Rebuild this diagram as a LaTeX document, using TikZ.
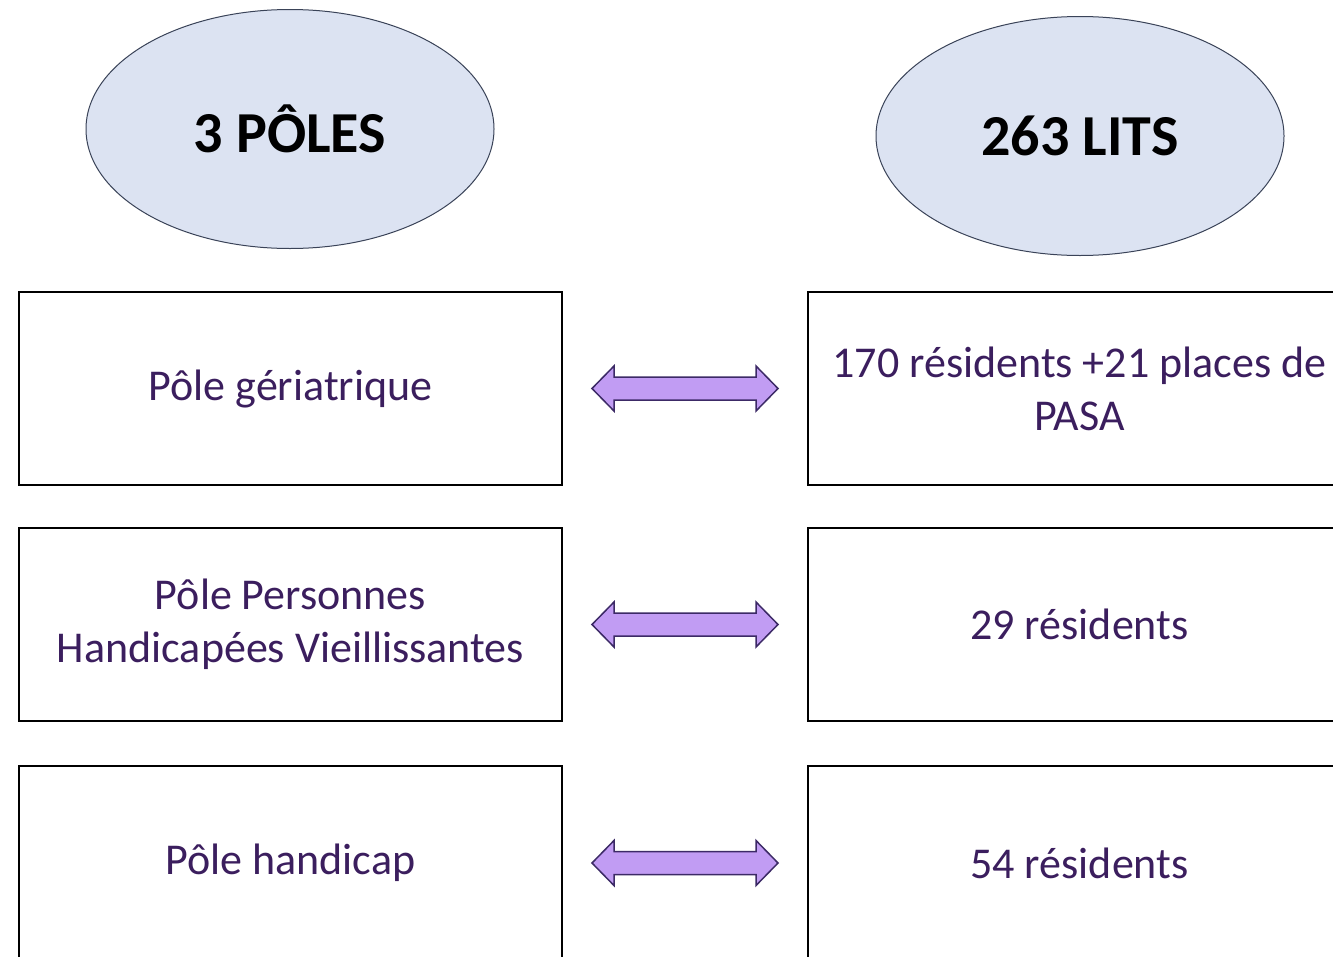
\documentclass[tikz,border=0pt]{standalone}
\usepackage{fontspec}
\setmainfont{Carlito}
\usetikzlibrary{shapes.geometric,calc}
\definecolor{txtpurple}{HTML}{3B1E5E}
\definecolor{ellfill}{HTML}{DCE3F2}
\definecolor{ellline}{HTML}{3A4358}
\definecolor{arrfill}{HTML}{C19CF3}
\definecolor{arrline}{HTML}{3C2A66}
\begin{document}
\begin{tikzpicture}[x=1pt,y=-1pt,
  ell/.style={ellipse,draw=ellline,line width=1pt,fill=ellfill,minimum width=408pt,minimum height=239pt,inner sep=0pt,
    font=\fontsize{58}{70}\selectfont\bfseries,text=black},
  box/.style={rectangle,draw=black,line width=1.6pt,fill=white,minimum width=543pt,minimum height=193pt,inner sep=0pt,
    align=center,font=\fontsize{44}{53}\selectfont,text=txtpurple},
  blockarrow/.style={fill=arrfill,draw=arrline,line width=1.5pt,line join=miter}
]
\useasboundingbox (0,0) rectangle (1333,956);
\clip (0,0) rectangle (1333,956);
\fill[white] (0,0) rectangle (1333,956);

\node[ell] (E1) at (290,129) {3 PÔLES};
\node[ell] (E2) at (1080,136) {263 LITS};

\node[box] (L1) at (290.5,388.5) {Pôle gériatrique};
\node[box] (L2) at (290.5,624.5) {Pôle Personnes\\Handicapées Vieillissantes};
\node[box,minimum height=194pt] (L3) at (290.5,863) {Pôle handicap};

\node[box] (R1) at (1079.5,388.5) {170 résidents +21 places de\\PASA};
\node[box] (R2) at (1079.5,624.5) {29 résidents};
\node[box,minimum height=194pt] (R3) at (1079.5,863) {54 résidents};

\foreach \i in {1,2,3}{
  \coordinate (A\i) at ($(L\i.east)!0.5!(R\i.west)$);
  \draw[blockarrow,shift={(A\i)}]
    (-93,0) -- (-71,-22.5) -- (-71,-11.5) -- (71,-11.5) -- (71,-22.5) -- (93,0)
    -- (71,22.5) -- (71,11.5) -- (-71,11.5) -- (-71,22.5) -- cycle;
}
\end{tikzpicture}
\end{document}
